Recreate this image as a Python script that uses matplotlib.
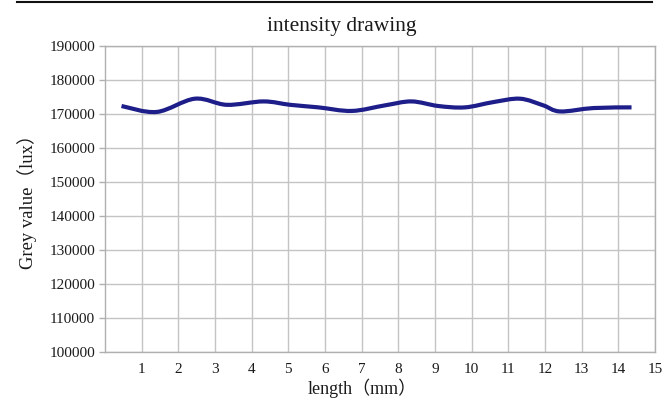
import matplotlib
matplotlib.use("Agg")
import matplotlib.pyplot as plt
from matplotlib.path import Path
from matplotlib.patches import PathPatch
from matplotlib.lines import Line2D
import numpy as np

# Data
length_mm = [0.45, 1.41, 2.45, 3.32, 4.32, 5.05, 5.82, 6.73, 7.64, 8.36,
             9.09, 9.82, 10.59, 11.32, 11.95, 12.41, 13.32, 14.36]
grey = [172350, 170600, 174500, 172700, 173700, 172700, 171950, 170900, 172550, 173700,
        172350, 171950, 173500, 174500, 172550, 170750, 171750, 171950]
x_ticks = list(range(1, 16))
y_ticks = list(range(100000, 190001, 10000))

title = "intensity drawing"
xlabel = "length（mm）"
ylabel = "Grey value（lux）"

fonts = ["Liberation Serif", "Noto Sans CJK SC"]
plt.rcParams["font.family"] = fonts

fig = plt.figure(figsize=(6.62, 4.01), dpi=100)
ax = fig.add_axes([105/662, 1-352/401, 550/662, 306/401])

# smooth line (Catmull-Rom converted to cubic Bezier)
x = np.array(length_mm, float)
y = np.array(grey, float)
verts = [(x[0], y[0])]
codes = [Path.MOVETO]
n = len(x)
for i in range(n - 1):
    p0 = (x[i-1], y[i-1]) if i > 0 else (x[i], y[i])
    p1 = (x[i], y[i])
    p2 = (x[i+1], y[i+1])
    p3 = (x[i+2], y[i+2]) if i + 2 < n else (x[i+1], y[i+1])
    c1 = (p1[0] + (p2[0]-p0[0])/6, p1[1] + (p2[1]-p0[1])/6)
    c2 = (p2[0] - (p3[0]-p1[0])/6, p2[1] - (p3[1]-p1[1])/6)
    verts += [c1, c2, p2]
    codes += [Path.CURVE4]*3
patch = PathPatch(Path(verts, codes), facecolor="none", edgecolor="#1e1e8a",
                  lw=3.0, capstyle="butt", joinstyle="round", zorder=3)
ax.add_patch(patch)

ax.set_xlim(0, 15)
ax.set_ylim(100000, 190000)
ax.set_xticks(x_ticks)
ax.set_xticklabels([str(t) for t in x_ticks])
ax.set_yticks(y_ticks)
ax.set_yticklabels([str(t) for t in y_ticks])
ax.grid(True, color="#c4c4c4", lw=1.0)
ax.set_axisbelow(True)
for s in ax.spines.values():
    s.set_color("#b0b0b0")
    s.set_linewidth(1.0)
ax.tick_params(axis="x", length=0, pad=8, labelsize=11, colors="#1a1a1a")
ax.tick_params(axis="y", length=4, width=1, color="#b0b0b0", pad=3, labelsize=11, labelcolor="#1a1a1a")

fig.text(342/662, 1-27/401, title, ha="center", va="center", fontsize=15.5, color="#1a1a1a")
fig.text(362/662, 1-388/401, xlabel, ha="center", va="center", fontsize=13, color="#1a1a1a")
fig.text(27/662, 1-197/401, ylabel, ha="center", va="center", rotation=90, fontsize=13.4, color="#1a1a1a")

fig.add_artist(Line2D([17/662, 652/662], [1-2/401, 1-2/401], color="#111111", lw=1.5,
                      transform=fig.transFigure))

fig.savefig("out.png", dpi=100)
